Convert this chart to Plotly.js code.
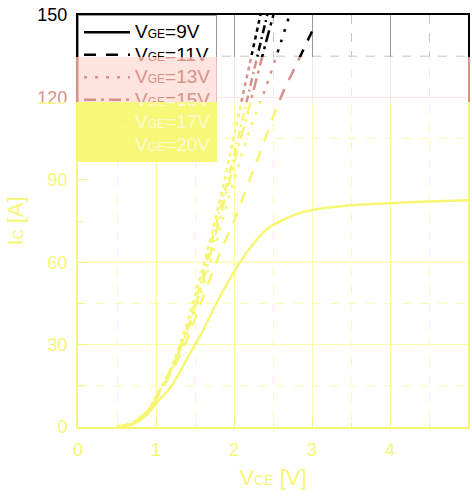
<!DOCTYPE html>
<html><head><meta charset="utf-8">
<script src="https://cdn.plot.ly/plotly-3.0.1.min.js"></script>
<style>
html,body{margin:0;padding:0;background:#fff;}
#wrap{position:relative;width:472px;height:496px;overflow:hidden;}
.band{position:absolute;left:0;top:0;width:472px;height:496px;}
</style></head><body>
<div id="wrap">
<div id="b3" class="band" style="clip-path:inset(102px 0 0 0)"></div>
<div id="b2" class="band" style="clip-path:inset(57px 0 394px 0)"></div>
<div id="b1" class="band" style="clip-path:inset(0 0 439px 0)"></div>
</div>
<script>
// ---- data ----
const seriesLabels = ["9V", "11V", "13V", "15V", "17V", "20V"];
const vce9  = [0.5, 0.7, 0.9, 1.0, 1.2, 1.4, 1.6, 1.8, 2.0, 2.1, 2.2, 2.3, 2.4, 2.5, 2.6, 2.8, 3.0, 3.5, 4.0, 4.5, 5.0];
const ic9   = [0, 1, 5, 8.5, 15, 25, 35, 46.5, 56.5, 61, 65, 68.5, 71.5, 73.5, 75, 77.5, 79, 80.7, 81.5, 82.1, 82.6];
const vce11 = [0.5, 0.7, 0.9, 1.0, 1.2, 1.4, 1.6, 1.8, 2.0, 2.2, 2.4, 2.6, 2.8, 3.0];
const ic11  = [0, 1.5, 6, 10, 20, 32, 47, 62, 75, 90, 105, 120, 132, 144];
const vce13 = [0.5, 0.7, 0.9, 1.0, 1.2, 1.4, 1.6, 1.8, 2.0, 2.2, 2.4, 2.6, 2.8];
const ic13  = [0, 1.5, 6, 10.5, 20.5, 34, 51, 70, 90, 108, 123, 140, 158];
const vce15 = [0.5, 0.7, 0.9, 1.0, 1.2, 1.4, 1.6, 1.8, 2.0, 2.2, 2.4, 2.6];
const ic15  = [0, 1.5, 6, 11, 21, 35, 53, 74, 96, 117, 139, 160];
const vce17 = [0.5, 0.7, 0.9, 1.0, 1.2, 1.4, 1.6, 1.8, 2.0, 2.2, 2.4, 2.6];
const ic17  = [0, 1.5, 6, 11, 21.5, 36, 55, 77, 99, 123, 147, 170];
const vce20 = [0.5, 0.7, 0.9, 1.0, 1.2, 1.4, 1.6, 1.8, 2.0, 2.2, 2.4];
const ic20  = [0, 1.5, 6, 11, 22, 38, 58, 80, 106, 132, 158];
const xTickVals = [0, 1, 2, 3, 4, 5];
const yTickVals = [0, 30, 60, 90, 120, 150];
const gridSolidY = [30, 60, 120];
const gridDashedY = [15, 45, 105, 135];

const seriesX = [vce9, vce11, vce13, vce15, vce17, vce20];
const seriesY = [ic9, ic11, ic13, ic15, ic17, ic20];
const dashes = ["solid", "12px,10px", "3px,8px", "12px,5px,3px,5px", "8px,4px,2px,4px", "4px,4px"];

const FONT = "Liberation Sans, Arial, sans-serif";
const themes = {
  b1: {line:"#000000", text:"#000000", axis:"#000000", gridSolid:"#999999", gridDash:"#c4c4c4",
       legBg:"#ffffff", legText:"#000000", legBorder:"#999999"},
  b2: {line:"#d8918a", text:"#d8918a", axis:"#d8918a", gridSolid:"#f8e6e4", gridDash:"#f8e6e4",
       legBg:"#fde4de", legText:"#d8918a", legBorder:"#e9bcb6"},
  b3: {line:"#f6f674", text:"#f6f674", axis:"#f6f674", gridSolid:"#fbfba6", gridDash:"#fbfbb0",
       legBg:"#f7f778", legText:"#fbfbd0", legBorder:"#f7f778"}
};

function build(id) {
  const t = themes[id];
  const traces = seriesLabels.map((lab, i) => ({
    type: "scatter", mode: "lines",
    x: seriesX[i], y: seriesY[i],
    name: '<span style="font-size:19px">V</span><span style="font-size:12px">GE</span><span style="font-size:19px">=' + lab + '</span>',
    line: {color: t.line, width: 2.5, dash: dashes[i], shape: "spline", smoothing: 0.8}
  }));
  const shapes = [];
  gridSolidY.forEach(v => shapes.push({type:"line", xref:"paper", x0:0, x1:1, yref:"y", y0:v, y1:v,
    layer:"below", line:{color:t.gridSolid, width:1}}));
  gridDashedY.forEach(v => shapes.push({type:"line", xref:"paper", x0:0, x1:1, yref:"y", y0:v, y1:v,
    layer:"below", line:{color:t.gridDash, width:1, dash:"dash"}}));
  const layout = {
    width: 472, height: 496,
    margin: {l:78, r:4, t:15, b:69},
    paper_bgcolor: "rgba(0,0,0,0)", plot_bgcolor: "#ffffff",
    font: {family: FONT, size: 18, color: t.text},
    showlegend: true,
    legend: {x:0, y:1, xanchor:"left", yanchor:"top", bgcolor:t.legBg, bordercolor:t.legBorder,
      borderwidth:1, font:{family:FONT, size:15, color:t.legText}, itemwidth:46, tracegroupgap:0},
    xaxis: {range:[0,5], tickvals:xTickVals, ticks:"inside", ticklen:8, tickwidth:1, tickcolor:t.axis,
      showline:true, linecolor:t.axis, linewidth:2, mirror:true, zeroline:false,
      showgrid:true, gridcolor:t.gridSolid, gridwidth:1, ticklabelstandoff:5,
      minor:{dtick:0.5, ticks:"inside", ticklen:4, tickcolor:t.axis, showgrid:true, gridcolor:t.gridDash, griddash:"dash"},
      tickfont:{family:FONT, size:18, color:t.text},
      title:{text:'V<span style="font-size:14px">CE</span> [V]', font:{family:FONT, size:22, color:t.text}, standoff:11}},
    yaxis: {range:[0,150], tickvals:yTickVals, ticks:"inside", ticklen:9, tickwidth:1, tickcolor:t.axis,
      showline:true, linecolor:t.axis, linewidth:2, mirror:true, zeroline:false, showgrid:false,
      ticklabelstandoff:5,
      minor:{dtick:15, ticks:"inside", ticklen:5, tickcolor:t.axis, showgrid:false},
      tickfont:{family:FONT, size:18, color:t.text},
      title:{text:'I<span style="font-size:14px">C</span> [A]', font:{family:FONT, size:22, color:t.text}, standoff:8}},
    shapes: shapes
  };
  Plotly.newPlot(id, traces, layout, {displayModeBar:false, staticPlot:true});
}
["b3","b2","b1"].forEach(build);
</script>
</body></html>
